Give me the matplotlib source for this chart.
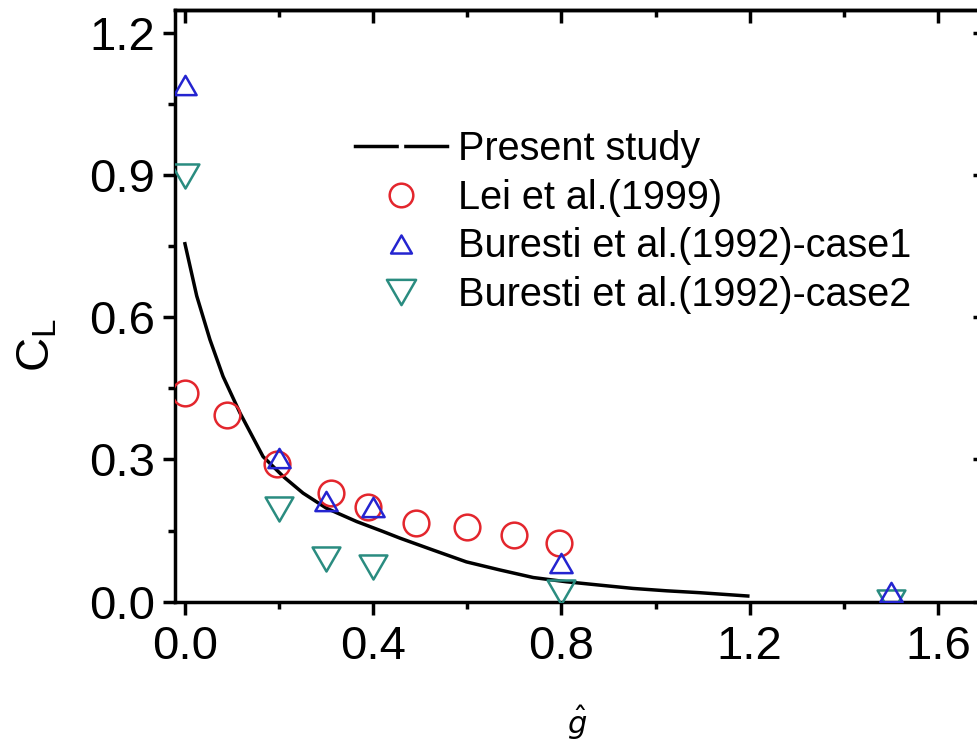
import matplotlib
matplotlib.use("Agg")
import matplotlib.pyplot as plt
from matplotlib.lines import Line2D
from matplotlib.path import Path
from matplotlib.ticker import MultipleLocator, FormatStrFormatter

plt.rcParams['font.family'] = ['Liberation Sans', 'DejaVu Sans']
plt.rcParams['mathtext.fontset'] = 'dejavusans'

# ---- data ----
present_x = [0.0, 0.025, 0.053, 0.081, 0.117, 0.166, 0.209, 0.251, 0.301, 0.365, 0.421, 0.457,
             0.527, 0.598, 0.669, 0.74, 0.811, 0.881, 0.952, 1.023, 1.094, 1.196]
present_y = [0.755, 0.645, 0.553, 0.475, 0.398, 0.306, 0.264, 0.229, 0.197, 0.169, 0.148, 0.134,
             0.109, 0.084, 0.067, 0.051, 0.042, 0.035, 0.028, 0.023, 0.019, 0.012]

lei_x = [0.0, 0.09, 0.195, 0.31, 0.39, 0.49, 0.6, 0.7, 0.795]
lei_y = [0.44, 0.394, 0.29, 0.23, 0.20, 0.167, 0.157, 0.14, 0.124]

case1_x = [0.0, 0.2, 0.3, 0.4, 0.8, 1.5]
case1_y = [1.09, 0.303, 0.213, 0.199, 0.082, 0.021]

case2_x = [0.0, 0.2, 0.3, 0.4, 0.8, 1.5]
case2_y = [0.898, 0.195, 0.09, 0.074, 0.021, 0.0]

labels = ["Present study", "Lei et al.(1999)", "Buresti et al.(1992)-case1", "Buresti et al.(1992)-case2"]
x_ticks = [0.0, 0.4, 0.8, 1.2, 1.6]
y_ticks = [0.0, 0.3, 0.6, 0.9, 1.2]

RED = "#e3262d"
BLUE = "#2424d0"
TEAL = "#2a8c80"

tri_up = Path([(-1, -0.866), (1, -0.866), (0, 0.866), (-1, -0.866)],
              [Path.MOVETO, Path.LINETO, Path.LINETO, Path.CLOSEPOLY])
tri_dn = Path([(-1, 0.866), (1, 0.866), (0, -0.866), (-1, 0.866)],
              [Path.MOVETO, Path.LINETO, Path.LINETO, Path.CLOSEPOLY])

fig = plt.figure(figsize=(9.77, 7.46), dpi=100)
L, R, B, T = 174.6, 985.0, 601.7, 10.0
ax = fig.add_axes([L / 977, 1 - B / 746, (R - L) / 977, (B - T) / 746])

ax.plot(present_x, present_y, color='black', lw=2.5, zorder=3, solid_joinstyle='round')
ax.plot(lei_x, lei_y, ls='none', marker='o', ms=18.5, mfc='none', mec=RED, mew=1.8, zorder=4)
ax.plot(case2_x, case2_y, ls='none', marker=tri_dn, ms=20, mfc='none', mec=TEAL, mew=1.8, zorder=4)
ax.plot(case1_x, case1_y, ls='none', marker=tri_up, ms=16, mfc='none', mec=BLUE, mew=1.8, zorder=5)

ax.set_xlim(-0.022, 1.70)
ax.set_ylim(0.0, 1.248)
ax.set_xticks(x_ticks)
ax.set_yticks(y_ticks)
ax.xaxis.set_minor_locator(MultipleLocator(0.2))
ax.yaxis.set_minor_locator(MultipleLocator(0.15))
ax.xaxis.set_major_formatter(FormatStrFormatter('%.1f'))
ax.yaxis.set_major_formatter(FormatStrFormatter('%.1f'))

for s in ax.spines.values():
    s.set_linewidth(2.5)

ax.tick_params(axis='both', which='major', direction='out', length=9, width=2.5, labelsize=34, top=False, right=False)
ax.tick_params(axis='both', which='minor', direction='out', length=5, width=2.5, top=False, right=False)
ax.tick_params(axis='x', which='major', pad=8)
ax.tick_params(axis='y', which='major', pad=5)

secx = ax.secondary_xaxis('top')
secx.set_xticks(x_ticks)
secx.xaxis.set_minor_locator(MultipleLocator(0.2))
secx.tick_params(axis='x', which='major', direction='in', length=9, width=2.5, labeltop=False)
secx.tick_params(axis='x', which='minor', direction='in', length=5, width=2.5)
secx.spines['top'].set_linewidth(2.5)

secy = ax.secondary_yaxis('right')
secy.set_yticks(y_ticks)
secy.yaxis.set_minor_locator(MultipleLocator(0.15))
secy.tick_params(axis='y', which='major', direction='in', length=9, width=2.5, labelright=False)
secy.tick_params(axis='y', which='minor', direction='in', length=5, width=2.5)
secy.spines['right'].set_linewidth(2.5)

ax.set_ylabel(r'C$_\mathregular{L}$', fontsize=34, rotation=90, ha='center', va='center')
ax.yaxis.set_label_coords(-0.169, 0.434)
ax.set_xlabel(r'$\hat{g}$', fontsize=22, ha='center', va='center')
ax.xaxis.set_label_coords(0.497, -0.205)

handles = [
    Line2D([], [], color='black', lw=2.5, marker='s', ms=2.5, mfc='white', mec='white'),
    Line2D([], [], ls='none', marker='o', ms=17, mfc='none', mec=RED, mew=1.8),
    Line2D([], [], ls='none', marker=tri_up, ms=15, mfc='none', mec=BLUE, mew=1.8),
    Line2D([], [], ls='none', marker=tri_dn, ms=21, mfc='none', mec=TEAL, mew=1.8),
]
ax.legend(handles, labels, loc='upper left', bbox_to_anchor=(355 / 977, 1 - 130 / 746),
          bbox_transform=fig.transFigure, frameon=False, fontsize=28.5,
          handlelength=2.32, handletextpad=0.28, labelspacing=0.27,
          borderpad=0, borderaxespad=0)

fig.savefig('out.png', dpi=100)
